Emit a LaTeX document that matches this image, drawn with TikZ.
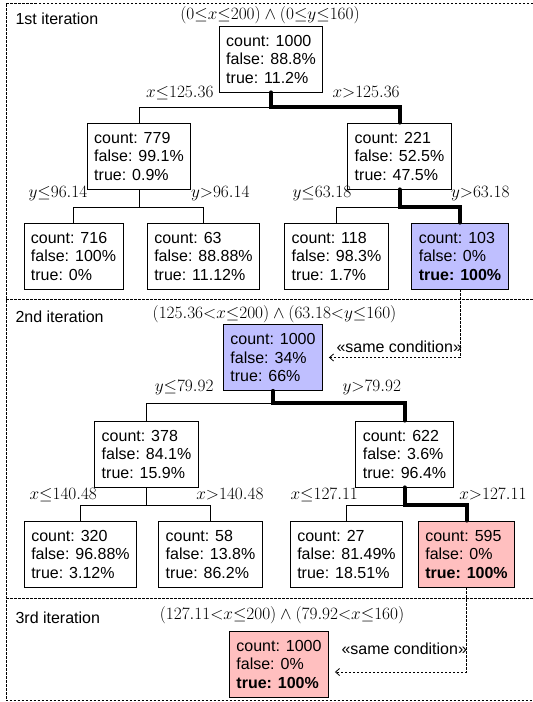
\documentclass[tikz,border=0pt]{standalone}
\usepackage[no-math]{fontspec}
\setsansfont{Liberation Sans}
\usetikzlibrary{arrows.meta}
\begin{document}
\begin{tikzpicture}[x=1pt, y=-1pt, font=\fontsize{16}{18.5}\selectfont\sffamily, >={Straight Barb[length=4pt,width=7pt]},
	cell/.style={draw, line width=0.8pt, fill=white, align=left, inner xsep=7pt, inner ysep=4pt, minimum height=66pt},
	bluecell/.style={cell, fill=blue!25},
	redcell/.style={cell, fill=red!25},
	branch/.style={line width=0.8pt},
	hot/.style={line width=4pt, line cap=round},
	frame/.style={line width=0.8pt, dash pattern=on 2.5pt off 1.5pt},
	sameline/.style={line width=0.8pt, dash pattern=on 2.5pt off 1.5pt}]
	\useasboundingbox (0,0) rectangle (533,702);
	\draw[frame] (545,3) -| (6,700.5) -- (545,700.5);
	\draw[frame] (6,299.5) -- (545,299.5);
	\draw[frame] (6,598) -- (545,598);
	\node[anchor=base west] (t1) at (12,24) {1st iteration};
	\node[anchor=base west] (t2) at (12,322) {2nd iteration};
	\node[anchor=base west] (t3) at (12,623) {3rd iteration};
	\node[anchor=base] (c1) at (270,19) {$(0{\le}x{\le}200)\wedge(0{\le}y{\le}160)$};
	\node[anchor=base] (c2) at (274.5,318) {$(125.36{<}x{\le}200)\wedge(63.18{<}y{\le}160)$};
	\node[anchor=base] (c3) at (282,619) {$(127.11{<}x{\le}200)\wedge(79.92{<}x{\le}160)$};
	\node[cell] (it1) at (271,59) {count: 1000\\false: 88.8\%\\true: 11.2\%};
	\node[cell] (it1a) at (139,156) {count: 779\\false: 99.1\%\\true: 0.9\%};
	\node[cell] (it1b) at (399.5,156) {count: 221\\false: 52.5\%\\true: 47.5\%};
	\node[cell] (it1aa) at (73.5,256) {count: 716\\false: 100\%\\true: 0\%};
	\node[cell] (it1ab) at (203.5,256) {count: 63\\false: 88.88\%\\true: 11.12\%};
	\node[cell] (it1ba) at (336.5,256) {count: 118\\false: 98.3\%\\true: 1.7\%};
	\node[bluecell] (it1bb) at (460,256) {count: 103\\false: 0\%\\\textbf{true: 100\%}};
	\node[bluecell] (it2) at (273,357.5) {count: 1000\\false: 34\%\\true: 66\%};
	\node[cell] (it2a) at (146.5,454) {count: 378\\false: 84.1\%\\true: 15.9\%};
	\node[cell] (it2b) at (404.5,454) {count: 622\\false: 3.6\%\\true: 96.4\%};
	\node[cell] (it2aa) at (80.5,554) {count: 320\\false: 96.88\%\\true: 3.12\%};
	\node[cell] (it2ab) at (210.5,554) {count: 58\\false: 13.8\%\\true: 86.2\%};
	\node[cell] (it2ba) at (346.5,554) {count: 27\\false: 81.49\%\\true: 18.51\%};
	\node[redcell] (it2bb) at (466.5,554) {count: 595\\false: 0\%\\\textbf{true: 100\%}};
	\node[redcell] (it3) at (279,664) {count: 1000\\false: 0\%\\\textbf{true: 100\%}};
	\node[anchor=base east] (l1) at (217,97) {$x{\le}125.36$};
	\node[anchor=base west] (r1) at (329,97) {$x{>}125.36$};
	\node[anchor=base west] (l1a) at (25,197) {$y{\le}96.14$};
	\node[anchor=base east] (r1a) at (253,197) {$y{>}96.14$};
	\node[anchor=base west] (l1b) at (289,197) {$y{\le}63.18$};
	\node[anchor=base east] (r1b) at (513,197) {$y{>}63.18$};
	\node[anchor=base east] (l2) at (217,391) {$y{\le}79.92$};
	\node[anchor=base west] (r2) at (339,391) {$y{>}79.92$};
	\node[anchor=base west] (l2a) at (26,499) {$x{\le}140.48$};
	\node[anchor=base east] (r2a) at (267,499) {$x{>}140.48$};
	\node[anchor=base west] (l2b) at (287,499) {$x{\le}127.11$};
	\node[anchor=base east] (r2b) at (530,499) {$x{>}127.11$};
	\draw[branch] (it1.south) -- ++(0,15) coordinate (j1);
	\draw[branch] (it1a.north) |- (j1) -| (it1b.north);
	\draw[branch] (it1a.south) -- ++(0,18) coordinate (j1a);
	\draw[branch] (it1aa.north) |- (j1a) -| (it1ab.north);
	\draw[branch] (it1b.south) -- ++(0,18) coordinate (j1b);
	\draw[branch] (it1ba.north) |- (j1b) -| (it1bb.north);
	\draw[branch] (it2.south) -- ++(0,12) coordinate (j2);
	\draw[branch] (it2a.north) |- (j2) -| (it2b.north);
	\draw[branch] (it2a.south) -- ++(0,18) coordinate (j2a);
	\draw[branch] (it2aa.north) |- (j2a) -| (it2ab.north);
	\draw[branch] (it2b.south) -- ++(0,18) coordinate (j2b);
	\draw[branch] (it2ba.north) |- (j2b) -| (it2bb.north);
	\draw[hot] (it1.south) -- (j1) -| (it1b.north);
	\draw[hot] (it1b.south) -- (j1b) -| (it1bb.north);
	\draw[hot] (it2.south) -- (j2) -| (it2b.north);
	\draw[hot] (it2b.south) -- (j2b) -| (it2bb.north);
	\draw[sameline, ->] (it1bb.south) |- ([xshift=6pt]it2.east);
	\draw[sameline, ->] (it2bb.south) |- ([xshift=6pt, yshift=-8pt]it3.east);
	\node[anchor=base west] (s1) at (333,352) {«same condition»};
	\node[anchor=base west] (s2) at (338,654) {«same condition»};
\end{tikzpicture}
\end{document}
